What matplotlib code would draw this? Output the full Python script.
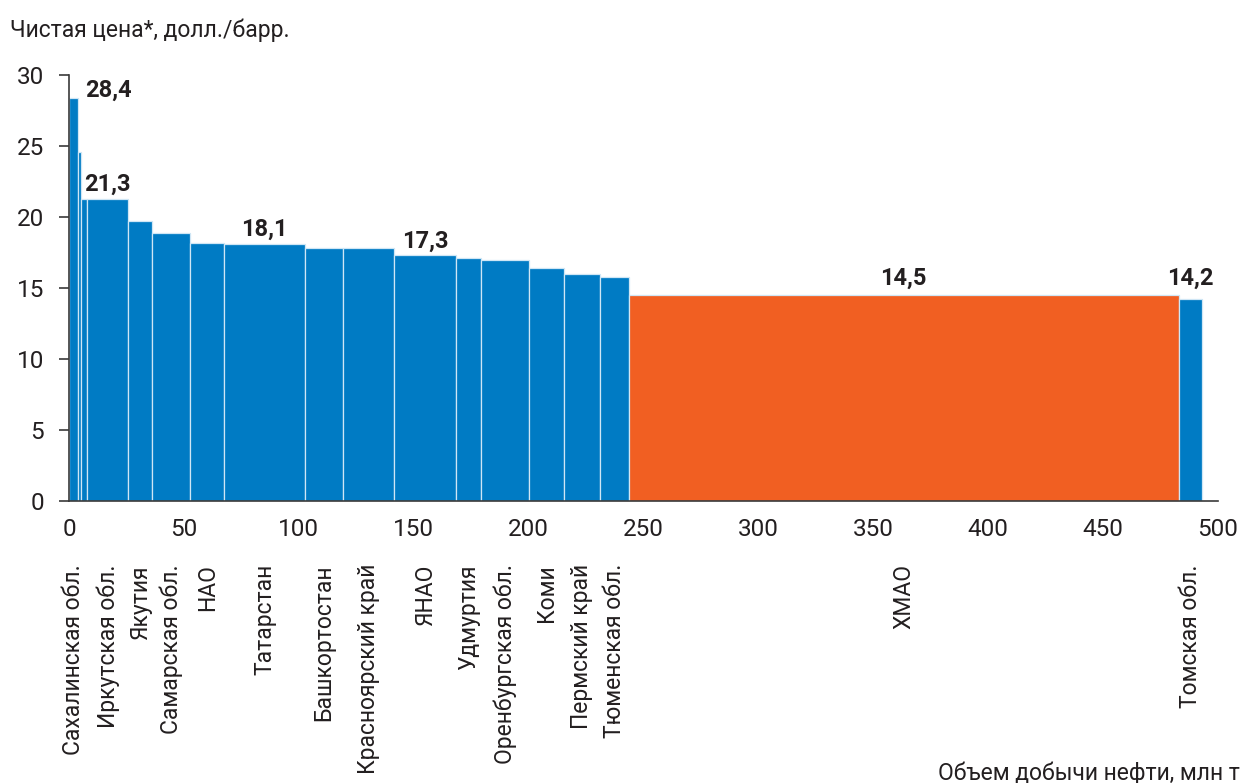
import numpy as np
import matplotlib
matplotlib.use("Agg")
import matplotlib.pyplot as plt
import matplotlib.transforms as mtransforms

plt.rcParams['font.family'] = ['Roboto', 'DejaVu Sans']

# Данные: регион, объем добычи (млн т), чистая цена (долл./барр.)
regions = ["Сахалинская обл.", "", "", "Иркутская обл.", "Якутия", "Самарская обл.",
           "НАО", "Татарстан", "Башкортостан", "Красноярский край", "ЯНАО",
           "Удмуртия", "Оренбургская обл.", "Коми", "Пермский край",
           "Тюменская обл.", "ХМАО", "Томская обл."]
volumes = [3.7, 1.4, 2.8, 17.9, 10.3, 16.7, 14.6, 35.3, 16.4, 22.4, 26.9,
           11.0, 20.9, 14.9, 15.9, 12.4, 239.3, 10.2]
prices = [28.4, 24.6, 21.3, 21.3, 19.7, 18.9, 18.2, 18.1, 17.8, 17.8, 17.3,
          17.1, 17.0, 16.4, 16.0, 15.8, 14.5, 14.2]
highlight = "ХМАО"
# подписи значений: индекс столбца
value_labels = [0, 3, 7, 10, 16, 17]

blue = "#007bc4"
orange = "#f15f22"
dark = "#231f20"

lefts = np.concatenate([[0], np.cumsum(volumes)[:-1]])
centers = lefts + np.array(volumes) / 2
colors = [orange if r == highlight else blue for r in regions]

fig = plt.figure(figsize=(12.42, 7.83), dpi=100)
ax = fig.add_axes([0.0556, 0.3602, 0.9251, 0.5440])

ax.bar(lefts, prices, width=volumes, align="edge", color=colors,
       edgecolor="#cfe6f5", linewidth=0.9)

ax.set_xlim(0, 500)
ax.set_ylim(0, 30)
ax.set_xticks(np.arange(0, 501, 50))
ax.set_yticks(np.arange(0, 31, 5))
ax.tick_params(axis="x", length=0, pad=12, labelsize=17.5, colors=dark)
ax.tick_params(axis="y", length=7, width=1.2, pad=11, labelsize=17.5, colors=dark)
ax.tick_params(axis="both", color="#3a3a3a")
for s in ["top", "right"]:
    ax.spines[s].set_visible(False)
for s in ["left", "bottom"]:
    ax.spines[s].set_color("#3a3a3a")
    ax.spines[s].set_linewidth(1.2)

# названия регионов под осью
trans = mtransforms.blended_transform_factory(ax.transData, ax.transAxes)
for c, r in zip(centers, regions):
    if r:
        ax.text(c, -0.148, r, transform=trans, rotation=90, ha="center",
                va="top", fontsize=16.5, color=dark)

# подписи значений
label_y = {16: 14.5 + 0.7, 17: 14.5 + 0.7}
for i in value_labels:
    txt = f"{prices[i]:.1f}".replace(".", ",")
    if i == 0:
        ax.text(lefts[i] + volumes[i] + 3.3, prices[i] + 0.05, txt,
                ha="left", va="baseline", fontsize=17, fontweight="bold", color=dark)
    else:
        y = label_y.get(i, prices[i] + 0.55)
        ax.text(centers[i], y, txt, ha="center", va="baseline",
                fontsize=17, fontweight="bold", color=dark)

fig.text(0.008, 0.962, "Чистая цена*, долл./барр.", ha="left", va="center",
         fontsize=16.5, color=dark)
fig.text(0.998, 0.012, "Объем добычи нефти, млн т", ha="right", va="center",
         fontsize=16.5, color=dark)

fig.savefig("out.png", dpi=100)
